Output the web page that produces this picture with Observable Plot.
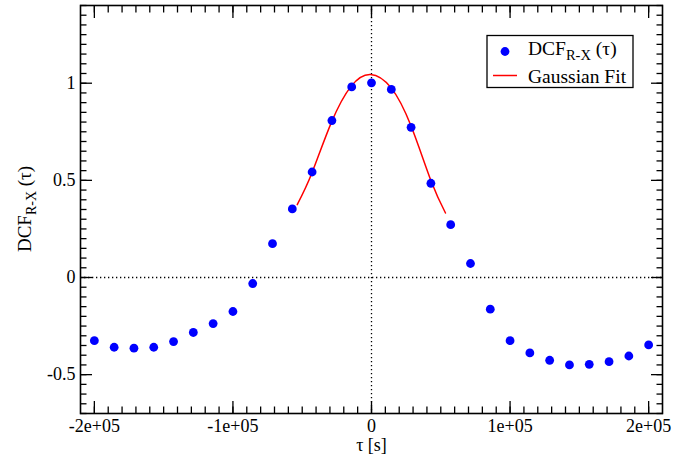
<!DOCTYPE html>
<html>
<head>
<meta charset="utf-8">
<script src="https://cdn.jsdelivr.net/npm/d3@7"></script>
<script src="https://cdn.jsdelivr.net/npm/@observablehq/plot@0.6"></script>
<style>
  html, body { margin: 0; padding: 0; background: #fff; }
  #chart { position: relative; width: 692px; height: 459px; }
</style>
</head>
<body>
<div id="chart"></div>
<script>
// Lag values (s) and DCF values
const tau = [-200000, -185714, -171429, -157143, -142857, -128571, -114286, -100000,
  -85714, -71429, -57143, -42857, -28571, -14286, 0, 14286, 28571, 42857, 57143,
  71429, 85714, 100000, 114286, 128571, 142857, 157143, 171429, 185714, 200000];
const dcf = [-0.325, -0.359, -0.364, -0.359, -0.330, -0.283, -0.237, -0.175,
  -0.031, 0.174, 0.353, 0.543, 0.808, 0.981, 1.002, 0.968, 0.773, 0.485, 0.272,
  0.072, -0.163, -0.325, -0.388, -0.426, -0.450, -0.447, -0.433, -0.404, -0.347];

// Gaussian fit curve
const fitTau = [-53600, -43000, -29080, -14650, -720, 14210, 28640, 43070, 53390];
const fitVal = [0.375, 0.538, 0.796, 0.985, 1.045, 0.976, 0.778, 0.495, 0.332];

// Tick values and labels
const xMajor = [-200000, -100000, 0, 100000, 200000];
const xTickLabels = ["-2e+05", "-1e+05", "0", "1e+05", "2e+05"];
const yMajor = [-0.5, 0, 0.5, 1];
const yTickLabels = ["-0.5", "0", "0.5", "1"];
const xMinor = d3.range(-200000, 200001, 10000);
const yMinor = d3.range(-0.7, 1.4001, 0.05).map(v => Math.round(v * 100) / 100);

const xLab = new Map(xMajor.map((v, i) => [v, xTickLabels[i]]));
const yLab = new Map(yMajor.map((v, i) => [v, yTickLabels[i]]));
const blank = () => "";
const idx = {length: tau.length};
const fidx = {length: fitTau.length};
const serif = "'Liberation Serif', 'Times New Roman', serif";

const plot = Plot.plot({
  width: 692,
  height: 459,
  marginLeft: 80,
  marginRight: 30,
  marginTop: 5,
  marginBottom: 46,
  style: {fontFamily: serif, fontSize: "18px", color: "#000", background: "#fff"},
  x: {domain: [-210000, 210000]},
  y: {domain: [-0.7, 1.4]},
  marks: [
    Plot.ruleY([0], {stroke: "#000", strokeWidth: 1.3, strokeDasharray: "1.3,2.7"}),
    Plot.ruleX([0], {stroke: "#000", strokeWidth: 1.3, strokeDasharray: "1.3,2.7"}),
    // minor ticks (inward)
    Plot.axisX(xMinor, {anchor: "bottom", tickSize: -6.5, tickFormat: blank, label: null, strokeWidth: 1.3}),
    Plot.axisX(xMinor, {anchor: "top", tickSize: -6.5, tickFormat: blank, label: null, strokeWidth: 1.3}),
    Plot.axisY(yMinor, {anchor: "left", tickSize: -6.5, tickFormat: blank, label: null, strokeWidth: 1.3}),
    Plot.axisY(yMinor, {anchor: "right", tickSize: -6.5, tickFormat: blank, label: null, strokeWidth: 1.3}),
    // major ticks (inward)
    Plot.axisX(xMajor, {anchor: "bottom", tickSize: -12, tickFormat: blank, label: null, strokeWidth: 1.3}),
    Plot.axisX(xMajor, {anchor: "top", tickSize: -12, tickFormat: blank, label: null, strokeWidth: 1.3}),
    Plot.axisY(yMajor, {anchor: "left", tickSize: -12, tickFormat: blank, label: null, strokeWidth: 1.3}),
    Plot.axisY(yMajor, {anchor: "right", tickSize: -12, tickFormat: blank, label: null, strokeWidth: 1.3}),
    // tick labels
    Plot.axisX(xMajor, {anchor: "bottom", tickSize: 0, tickPadding: 6, tickFormat: d => xLab.get(d), label: null, fontSize: 18}),
    Plot.axisY(yMajor, {anchor: "left", tickSize: 0, tickPadding: 5, tickFormat: d => yLab.get(d), label: null, fontSize: 18}),
    Plot.text(["τ [s]"], {frameAnchor: "bottom", dy: 37, fontSize: 18}),
    Plot.line(fidx, {x: fitTau, y: fitVal, curve: "natural", stroke: "#ff0000", strokeWidth: 1.5}),
    Plot.dot(idx, {x: tau, y: dcf, r: 4.4, fill: "#0000ff", stroke: "none"}),
    Plot.frame({stroke: "#000", strokeWidth: 1.6})
  ]
});

document.getElementById("chart").appendChild(plot);

// y-axis label with subscript
const svg = d3.select(plot);
const yl = svg.append("text")
  .attr("transform", "translate(31,209) rotate(-90)")
  .attr("text-anchor", "middle")
  .attr("font-family", serif)
  .attr("font-size", 19)
  .attr("fill", "#000");
yl.append("tspan").text("DCF");
yl.append("tspan").attr("font-size", 14).attr("dy", 5).text("R-X");
yl.append("tspan").attr("dy", -5).text(" (τ)");

// legend
const lg = svg.append("g").attr("font-family", serif).attr("fill", "#000").attr("text-anchor", "start");
lg.append("rect").attr("x", 487).attr("y", 35.5).attr("width", 146).attr("height", 52)
  .attr("fill", "#fff").attr("stroke", "#000").attr("stroke-width", 1.3);
lg.append("circle").attr("cx", 505).attr("cy", 51.5).attr("r", 4.4).attr("fill", "#0000ff");
const t1 = lg.append("text").attr("x", 528).attr("y", 55).attr("font-size", 19.5).attr("text-anchor", "start");
t1.append("tspan").text("DCF");
t1.append("tspan").attr("font-size", 14.5).attr("dy", 5).text("R-X");
t1.append("tspan").attr("dy", -5).text(" (τ)");
lg.append("line").attr("x1", 493).attr("x2", 517).attr("y1", 75.5).attr("y2", 75.5)
  .attr("stroke", "#ff0000").attr("stroke-width", 1.5);
lg.append("text").attr("x", 528).attr("y", 82.5).attr("font-size", 19.5).attr("text-anchor", "start").text("Gaussian Fit");
</script>
</body>
</html>
